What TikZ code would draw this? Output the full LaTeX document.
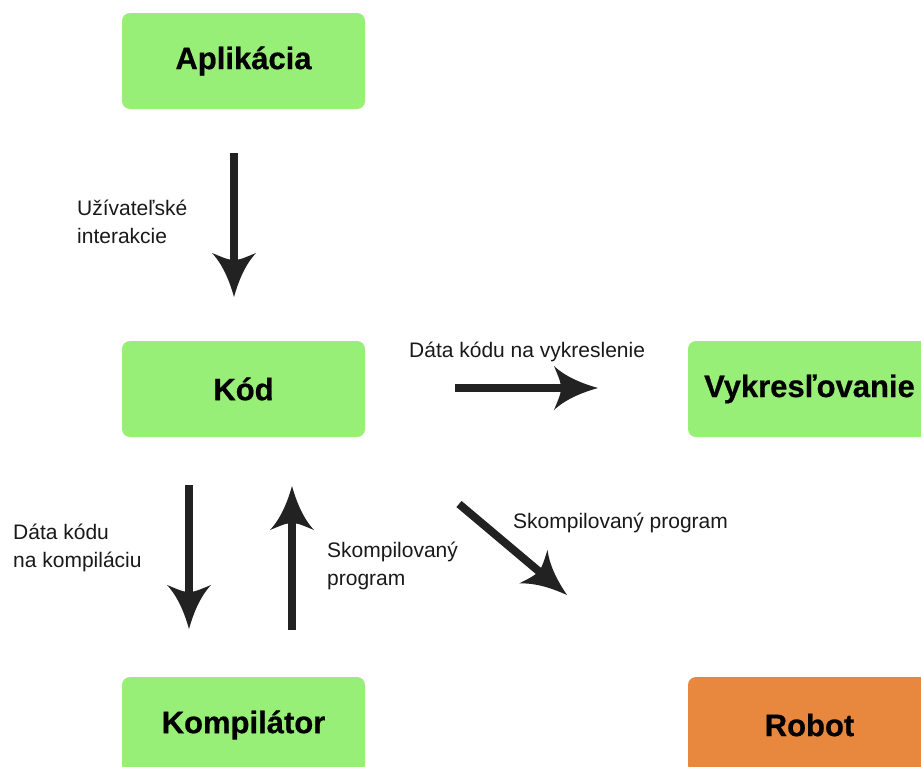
\documentclass[tikz,border=0pt]{standalone}
\usepackage{fontspec}
\setmainfont{Liberation Sans}
\newfontfamily\blockfont{Liberation Sans}[BoldFeatures={FakeBold=0.6}]
\usetikzlibrary{arrows.meta}

% Filled arrowhead with concave flanks and a notched back
\pgfdeclarearrow{
  name = Barbed,
  parameters = {\the\pgfarrowlength,\the\pgfarrowwidth},
  setup code = {
    \pgfarrowssettipend{\pgfarrowlength}
    \pgfarrowssetlineend{.5\pgfarrowlength}
    \pgfarrowssetvisualbackend{0pt}
    \pgfarrowssetbackend{0pt}
    \pgfarrowshullpoint{\pgfarrowlength}{0pt}
    \pgfarrowsupperhullpoint{0pt}{.5\pgfarrowwidth}
    \pgfarrowssavethe\pgfarrowlength
    \pgfarrowssavethe\pgfarrowwidth
  },
  drawing code = {
    \pgfpathmoveto{\pgfqpoint{\pgfarrowlength}{0pt}}
    \pgfpathcurveto{\pgfqpoint{.72\pgfarrowlength}{.08\pgfarrowwidth}}
                   {\pgfqpoint{.3\pgfarrowlength}{.22\pgfarrowwidth}}
                   {\pgfqpoint{0pt}{.5\pgfarrowwidth}}
    \pgfpathcurveto{\pgfqpoint{.08\pgfarrowlength}{.3\pgfarrowwidth}}
                   {\pgfqpoint{.16\pgfarrowlength}{.14\pgfarrowwidth}}
                   {\pgfqpoint{.16\pgfarrowlength}{0pt}}
    \pgfpathcurveto{\pgfqpoint{.16\pgfarrowlength}{-.14\pgfarrowwidth}}
                   {\pgfqpoint{.08\pgfarrowlength}{-.3\pgfarrowwidth}}
                   {\pgfqpoint{0pt}{-.5\pgfarrowwidth}}
    \pgfpathcurveto{\pgfqpoint{.3\pgfarrowlength}{-.22\pgfarrowwidth}}
                   {\pgfqpoint{.72\pgfarrowlength}{-.08\pgfarrowwidth}}
                   {\pgfqpoint{\pgfarrowlength}{0pt}}
    \pgfpathclose
    \pgfusepathqfill
  },
  defaults = {length = 44pt, width = 44pt}
}

\definecolor{boxgreen}{HTML}{97EF78}
\definecolor{boxorange}{HTML}{E8883F}
\definecolor{arrowdark}{HTML}{222222}

\tikzset{
  block/.style={rectangle, rounded corners=8pt, minimum width=243pt,
    minimum height=96pt, inner sep=0pt,
    font=\blockfont\fontsize{31}{37}\selectfont\bfseries},
  greenblock/.style={block, fill=boxgreen},
  orangeblock/.style={block, fill=boxorange},
  flow/.style={draw=arrowdark, line width=8pt, -{Barbed[length=44pt,width=44pt]},
    arrowdark},
  note/.style={anchor=base west, align=left, inner sep=0pt,
    font=\fontsize{21}{28}\selectfont, text=black!90},
}

\begin{document}
\begin{tikzpicture}[x=1pt, y=-1pt]
  \useasboundingbox (0,0) rectangle (921,766);
  \clip (0,0) rectangle (921,766);

  % blocks
  \node[greenblock]  (apl)  at (243.5, 61)  {Aplikácia};
  \node[greenblock]  (kod)  at (243.5, 389) {Kód};
  \node[greenblock]  (vyk)  at (809.5, 389) {Vykresľovanie};
  \node[greenblock]  (komp) at (243.5, 725) {Kompilátor};
  \node[orangeblock] (rob)  at (809.5, 725) {Robot};

  % arrow end points
  \coordinate (a1s) at (234, 153);
  \coordinate (a1e) at (234, 297);
  \coordinate (a2s) at (455, 388);
  \coordinate (a2e) at (598, 388);
  \coordinate (a3s) at (459, 504);
  \coordinate (a3e) at (567, 595);
  \coordinate (a4s) at (189, 485);
  \coordinate (a4e) at (189, 629);
  \coordinate (a5s) at (292, 630);
  \coordinate (a5e) at (292, 486);

  % arrows
  \draw[flow] (a1s) -- (a1e);
  \draw[flow] (a2s) -- (a2e);
  \draw[flow] (a3s) -- (a3e);
  \draw[flow] (a4s) -- (a4e);
  \draw[flow] (a5s) -- (a5e);

  % labels (two-line labels are placed by the baseline of their last line)
  \node[note] (l1) at (77, 243)  {Užívateľské\\interakcie};
  \node[note] (l2) at (409, 357) {Dáta kódu na vykreslenie};
  \node[note] (l3) at (13, 567)  {Dáta kódu\\na kompiláciu};
  \node[note] (l4) at (327, 585) {Skompilovaný\\program};
  \node[note] (l5) at (513, 528) {Skompilovaný program};
\end{tikzpicture}
\end{document}
